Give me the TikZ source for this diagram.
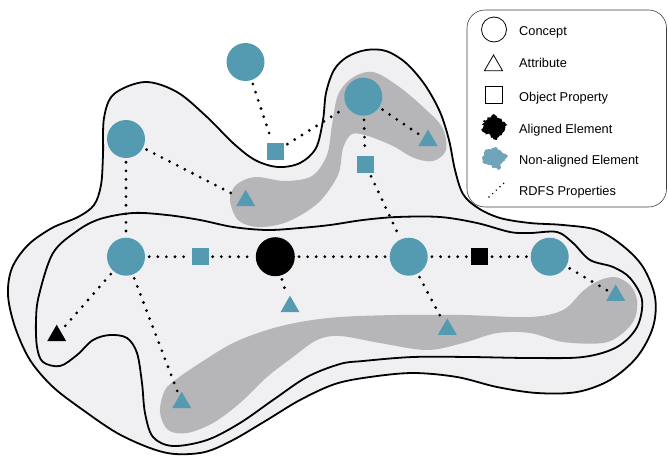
\documentclass[tikz,border=0pt]{standalone}
\usepackage{fontspec}
\setmainfont{Liberation Sans}
\usetikzlibrary{shapes.geometric,decorations.pathmorphing}
\definecolor{tealA}{RGB}{84,155,177}
\definecolor{tealB}{RGB}{111,164,186}
\definecolor{bgfill}{RGB}{240,240,242}
\definecolor{bandgray}{RGB}{182,182,184}
\begin{document}
\begin{tikzpicture}[x=1pt,y=-1pt,
  concept/.style={circle,fill=tealA,minimum size=38pt,inner sep=0pt},
  aconcept/.style={circle,fill=black,minimum size=39pt,inner sep=0pt},
  oprop/.style={rectangle,fill=tealA,minimum size=17pt,inner sep=0pt},
  aoprop/.style={rectangle,fill=black,minimum size=17pt,inner sep=0pt},
  attr/.style={regular polygon,regular polygon sides=3,fill=tealA,minimum size=22pt,inner sep=0pt},
  aattr/.style={attr,fill=black},
  rdfs/.style={line width=3.1pt,line cap=round,dash pattern=on 0pt off 8.6pt,shorten <=4pt,shorten >=4pt},
  contour/.style={line width=1.8pt,fill=bgfill,draw=black},
  band/.style={fill=bandgray,draw=none},
  legsym/.style={draw=black,line width=0.8pt,inner sep=0pt},
  legtext/.style={anchor=base west,inner sep=0pt,font=\fontsize{12.8}{14}\selectfont},
]
\useasboundingbox (0,0) rectangle (668,455);
\pgfmathsetseed{7}

% outer contour
\draw[contour] plot[smooth cycle,tension=0.55] coordinates {
 (8,295) (12,268) (28,245) (52,228) (78,217) (94,205) (101,185) (103,155)
 (104,118) (114,94) (145,82) (177,92) (207,117) (233,143) (255,160) (278,167)
 (300,163) (316,148) (323,120) (326,93) (334,70) (347,57) (366,50) (386,51)
 (406,63) (425,85) (440,112) (449,140) (455,170) (463,194) (478,208) (500,218)
 (530,223) (563,225) (597,230) (623,246) (643,267) (655,297) (653,327) (637,357)
 (610,380) (577,392) (537,393) (497,387) (457,377) (413,373) (370,377) (335,384)
 (300,400) (267,420) (233,440) (205,452) (175,454) (150,448) (117,433) (83,410)
 (53,387) (30,360) (15,327)};

% inner contour
\draw[contour] plot[smooth cycle,tension=0.55] coordinates {
 (53,253) (77,231) (100,219) (133,213) (167,215) (200,220) (233,227) (267,230)
 (300,228) (330,225) (363,220) (397,217) (440,217) (477,223) (510,232) (530,233)
 (557,232) (573,243) (590,260) (613,267) (630,278) (642,300) (637,327) (617,347)
 (583,357) (530,358) (470,357) (413,357) (363,361) (340,364) (307,377) (273,400)
 (240,423) (207,440) (173,446) (153,437) (145,413) (142,383) (137,353) (127,338)
 (110,335) (93,340) (77,355) (60,366) (43,362) (37,347) (36,320) (39,295)};

% upper gray band
\fill[band] plot[smooth cycle,tension=0.55] coordinates {
 (230,200) (236,185) (255,177) (285,181) (312,176) (327,155) (332,125) (338,95)
 (352,78) (373,72) (398,86) (422,106) (442,127) (446,150) (433,161) (414,158)
 (393,146) (368,136) (352,134) (343,148) (338,175) (318,203) (287,222) (258,227)
 (238,220)};

% lower gray band
\fill[band] plot[smooth cycle,tension=0.55] coordinates {
 (160,412) (165,390) (178,378) (200,363) (233,343) (267,330) (300,322) (340,317)
 (397,315) (463,315) (530,317) (563,310) (583,291) (598,281) (615,277) (630,285)
 (637,300) (635,318) (623,333) (603,343) (563,342) (530,333) (497,333) (463,343)
 (427,350) (380,343) (340,336) (317,340) (293,357) (267,377) (240,403) (213,423)
 (187,433) (168,430)};

% nodes
\node[concept] (c0) at (245.5,62) {};
\node[oprop]   (s0) at (275.3,151.7) {};
\node[concept] (c1) at (126,139) {};
\node[attr]    (t1) at (245.7,200.7) {};
\node[concept] (c2) at (363.3,96.7) {};
\node[attr]    (t2) at (428,140.5) {};
\node[oprop]   (s2) at (365.3,164) {};
\node[concept] (c3) at (126,256.7) {};
\node[oprop]   (s3) at (200,256.7) {};
\node[aconcept](b1) at (275.3,256.7) {};
\node[attr]    (t3) at (290,306.7) {};
\node[concept] (c4) at (408.7,256.7) {};
\node[aoprop]  (bs) at (479.3,256.7) {};
\node[concept] (c5) at (549.7,256.7) {};
\node[attr]    (t5) at (615.7,295.4) {};
\node[attr]    (t4) at (447.3,329.4) {};
\node[aattr]   (bt) at (56.7,335.7) {};
\node[attr]    (t6) at (181.7,402.7) {};

% RDFS connectors
\draw[rdfs] (c0) -- (s0);
\draw[rdfs] (s0) -- (c2);
\draw[rdfs] (c1) -- (t1);
\draw[rdfs] (c1) -- (c3);
\draw[rdfs] (c2) -- (t2);
\draw[rdfs] (c2) -- (s2);
\draw[rdfs] (s2) -- (c4);
\draw[rdfs] (c3) -- (s3);
\draw[rdfs] (s3) -- (b1);
\draw[rdfs] (b1) -- (c4);
\draw[rdfs] (c4) -- (bs);
\draw[rdfs] (bs) -- (c5);
\draw[rdfs] (c5) -- (t5);
\draw[rdfs] (b1) -- (t3);
\draw[rdfs] (c4) -- (t4);
\draw[rdfs] (c3) -- (bt);
\draw[rdfs] (c3) -- (t6);

% legend
\draw[line width=0.6pt,draw=black!75,fill=white,rounded corners=18pt] (467,10) rectangle (666.5,207);
\node[legsym,circle,minimum size=25pt] (lc) at (494,29.5) {};
\node[legsym,regular polygon,regular polygon sides=3,minimum size=21pt] (la) at (493.5,65.5) {};
\node[legsym,rectangle,minimum size=17pt] (lo) at (493.5,95) {};
\fill[black,decorate,decoration={random steps,segment length=1.6pt,amplitude=1.3pt}]
  (495,115) -- (507,125) -- (497,140) -- (482,131) -- (484,120) -- cycle;
\fill[tealB,decorate,decoration={random steps,segment length=1.6pt,amplitude=1.3pt}]
  (496,147) -- (508,156) -- (498,170) -- (482,162) -- (485,151) -- cycle;
\draw[line width=1.6pt,line cap=round,dash pattern=on 0pt off 5pt] (489,197) -- (504,183);
\node[legtext] (lt1) at (519,35.5) {Concept};
\node[legtext] (lt2) at (519,67.5) {Attribute};
\node[legtext] (lt3) at (519,101.5) {Object Property};
\node[legtext] (lt4) at (519,133) {Aligned Element};
\node[legtext] (lt5) at (519,164) {Non-aligned Element};
\node[legtext] (lt6) at (519,195.5) {RDFS Properties};
\end{tikzpicture}
\end{document}
